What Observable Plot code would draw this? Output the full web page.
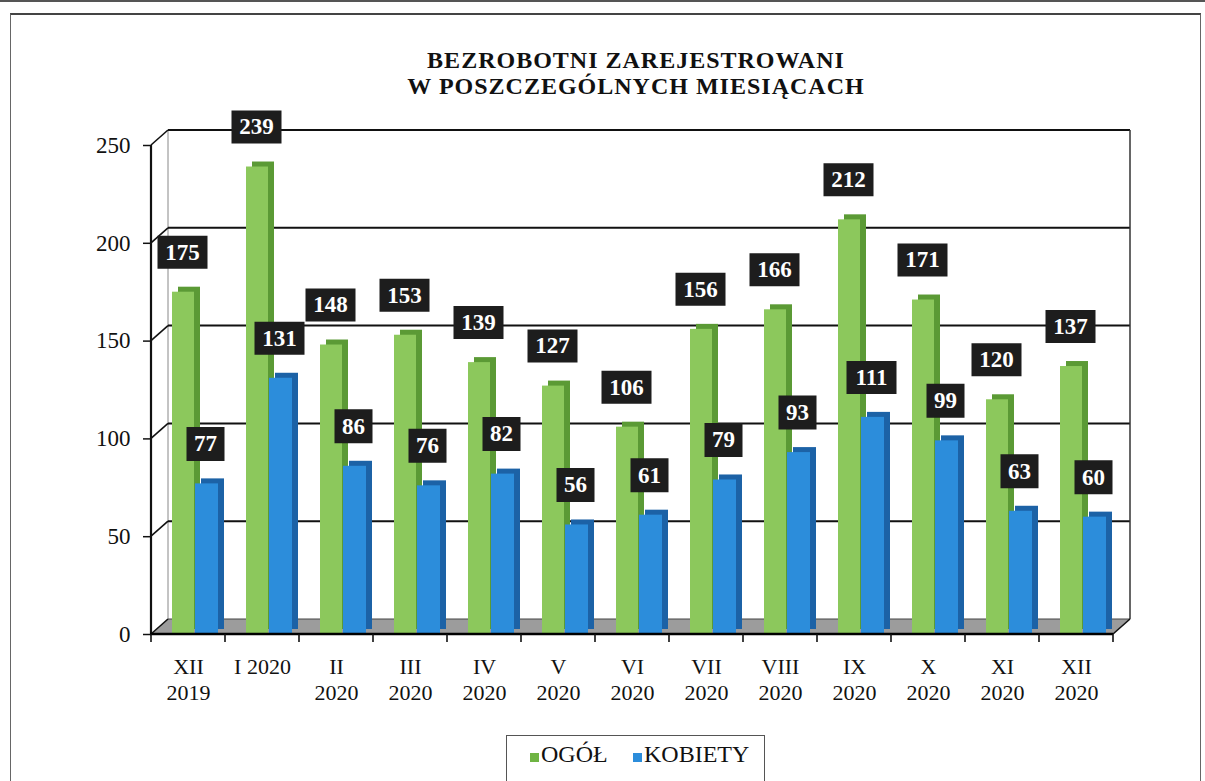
<!DOCTYPE html>
<html><head><meta charset="utf-8">
<script src="https://cdn.jsdelivr.net/npm/d3@7"></script>
<script src="https://cdn.jsdelivr.net/npm/@observablehq/plot@0.6"></script>
<style>
body{margin:0;background:#fff;}
#page{position:relative;width:1205px;height:781px;overflow:hidden;font-family:"Liberation Serif","Times New Roman",serif;color:#111;}
#topline{position:absolute;left:0;top:0;width:1205px;height:2px;background:#555;}
#box{position:absolute;left:10px;top:13px;width:1189px;height:800px;border:1.5px solid #666;border-top:2px solid #444;}
.title{position:absolute;left:136px;width:1000px;text-align:center;font-weight:bold;font-size:24px;line-height:24px;letter-spacing:1px;white-space:nowrap;}
#chart{position:absolute;left:0;top:110px;}
#legend{position:absolute;left:506px;top:735px;width:257px;height:70px;border:1px solid #555;background:#fff;}
#legend .sw{position:absolute;width:9px;height:9px;top:17px;}
#legend .lt{position:absolute;top:6px;font-size:24px;line-height:24px;white-space:nowrap;}
</style></head><body>
<div id="page">
  <div id="topline"></div>
  <div id="box"></div>
  <div class="title" style="top:48px">BEZROBOTNI ZAREJESTROWANI</div>
  <div class="title" style="top:74px">W POSZCZEGÓLNYCH MIESIĄCACH</div>
  <div id="chart"></div>
  <div id="legend">
    <span class="sw" id="sw0" style="left:23px"></span><span class="lt" id="lt0" style="left:34px"></span>
    <span class="sw" id="sw1" style="left:126px"></span><span class="lt" id="lt1" style="left:137px"></span>
  </div>
</div>
<script>
// ---- data ----
const months = ["XII\n2019","I 2020","II\n2020","III\n2020","IV\n2020","V\n2020","VI\n2020","VII\n2020","VIII\n2020","IX\n2020","X\n2020","XI\n2020","XII\n2020"];
const ogol = [175,239,148,153,139,127,106,156,166,212,171,120,137];
const kobiety = [77,131,86,76,82,56,61,79,93,111,99,63,60];
const yTicks = [0,50,100,150,200,250];
const seriesNames = ["OGÓŁ","KOBIETY"];

// ---- styles ----
const greenFront = "#8cc85c", greenSide = "#5b9a35";
const blueFront = "#2c8ddb", blueSide = "#1c62a6";
const labelBox = "#1d1d1d";
const DX = 17, DY = -15;

document.getElementById("sw0").style.background = "#6fb443";
document.getElementById("sw1").style.background = blueFront;
document.getElementById("lt0").textContent = seriesNames[0];
document.getElementById("lt1").textContent = seriesNames[1];

const rows = months.map((m,i)=>({m, ogol: ogol[i], kobiety: kobiety[i]}));
const labels = [
  ...rows.map(r=>({m:r.m, v:r.ogol, s:0})),
  ...rows.map(r=>({m:r.m, v:r.kobiety, s:1}))
];

const wideSym = {draw(ctx){ ctx.rect(-25,-16.5,50,33); }};
const narrowSym = {draw(ctx){ ctx.rect(-19,-17,38,34); }};

function bandInfo(x){
  const r = x.range ? x.range() : [151,1113];
  return {x0: Math.min(...r), x1: Math.max(...r), bw: x.bandwidth ? x.bandwidth() : (r[1]-r[0])/months.length};
}

function backScaffold(index, scales){
  const x = scales.x, y = scales.y;
  const {x0, x1} = bandInfo(x);
  const y0 = y(0), yT = y(250);
  const g = d3.create("svg:g");
  g.append("path")
    .attr("d", `M${x0},${y0}L${x1},${y0}L${x1+DX},${y0+DY}L${x0+DX},${y0+DY}Z`)
    .attr("fill", "#9c9c9c");
  g.append("line").attr("x1", x0+DX).attr("x2", x0+DX).attr("y1", yT+DY).attr("y2", y0+DY)
    .attr("stroke", "#888").attr("stroke-width", 1);
  for (const v of yTicks){
    g.append("line").attr("x1", x0+DX).attr("x2", x1+DX).attr("y1", y(v)+DY).attr("y2", y(v)+DY)
      .attr("stroke", v===0 ? "#444" : "#111").attr("stroke-width", v===0 ? 1 : 2);
    g.append("line").attr("x1", x0).attr("x2", x0+DX).attr("y1", y(v)).attr("y2", y(v)+DY)
      .attr("stroke", "#111").attr("stroke-width", 1.6);
  }
  g.append("line").attr("x1", x1+DX).attr("x2", x1+DX).attr("y1", yT+DY).attr("y2", y0+DY)
    .attr("stroke", "#333").attr("stroke-width", 1.5);
  g.append("line").attr("x1", x0).attr("x2", x0).attr("y1", yT).attr("y2", y0)
    .attr("stroke", "#111").attr("stroke-width", 2.2);
  return g.node();
}

function frontScaffold(index, scales){
  const x = scales.x, y = scales.y;
  const {x0, x1, bw} = bandInfo(x);
  const y0 = y(0);
  const g = d3.create("svg:g");
  g.append("line").attr("x1", x1).attr("x2", x1+DX).attr("y1", y0).attr("y2", y0+DY)
    .attr("stroke", "#111").attr("stroke-width", 1.6);
  g.append("line").attr("x1", x0-1).attr("x2", x1).attr("y1", y0).attr("y2", y0)
    .attr("stroke", "#000").attr("stroke-width", 2.6);
  for (let i = 0; i <= months.length; i++){
    const xx = x0 + i*bw;
    g.append("line").attr("x1", xx).attr("x2", xx).attr("y1", y0).attr("y2", y0+8)
      .attr("stroke", "#111").attr("stroke-width", 1.6);
  }
  return g.node();
}

const fontFamily = "Liberation Serif, Times New Roman, serif";

const chart = Plot.plot({
  width: 1205,
  height: 600,
  marginLeft: 151,
  marginRight: 92,
  marginTop: 35,
  marginBottom: 76,
  style: {fontFamily, background: "transparent", color: "#111"},
  x: {domain: months, range: [151, 1113], padding: 0, label: null},
  y: {domain: [0, 250], range: [524, 35], label: null},
  marks: [
    backScaffold,
    Plot.barY(rows, {x: "m", y: "ogol", fill: greenSide, insetLeft: 21, insetRight: 31, dx: 6, dy: -5}),
    Plot.barY(rows, {x: "m", y: "ogol", fill: greenFront, insetLeft: 21, insetRight: 31}),
    Plot.barY(rows, {x: "m", y: "kobiety", fill: blueSide, insetLeft: 44, insetRight: 7, dx: 6, dy: -5}),
    Plot.barY(rows, {x: "m", y: "kobiety", fill: blueFront, insetLeft: 44, insetRight: 7}),
    frontScaffold,
    Plot.axisY({ticks: yTicks, tickSize: 8, tickPadding: 13, fontSize: 23, fontFamily, label: null, strokeWidth: 1.5}),
    Plot.axisX({tickSize: 0, tickPadding: 22, fontSize: 22, fontFamily, label: null, lineHeight: 1.15}),
    Plot.dot(labels.filter(d => d.s===0 && d.v>=100), {x: "m", y: "v", dx: -6, dy: -40, r: 10, symbol: wideSym, fill: labelBox}),
    Plot.dot(labels.filter(d => d.s===0 && d.v<100), {x: "m", y: "v", dx: -6, dy: -40, r: 10, symbol: narrowSym, fill: labelBox}),
    Plot.dot(labels.filter(d => d.s===1 && d.v>=100), {x: "m", y: "v", dx: 17, dy: -40, r: 10, symbol: wideSym, fill: labelBox}),
    Plot.dot(labels.filter(d => d.s===1 && d.v<100), {x: "m", y: "v", dx: 17, dy: -40, r: 10, symbol: narrowSym, fill: labelBox}),
    Plot.text(labels.filter(d => d.s===0), {x: "m", y: "v", text: d => String(d.v), dx: -6, dy: -40, fill: "#fff", fontSize: 23, fontWeight: "bold", fontFamily}),
    Plot.text(labels.filter(d => d.s===1), {x: "m", y: "v", text: d => String(d.v), dx: 17, dy: -40, fill: "#fff", fontSize: 23, fontWeight: "bold", fontFamily})
  ]
});
document.getElementById("chart").appendChild(chart);
</script>
</body></html>
